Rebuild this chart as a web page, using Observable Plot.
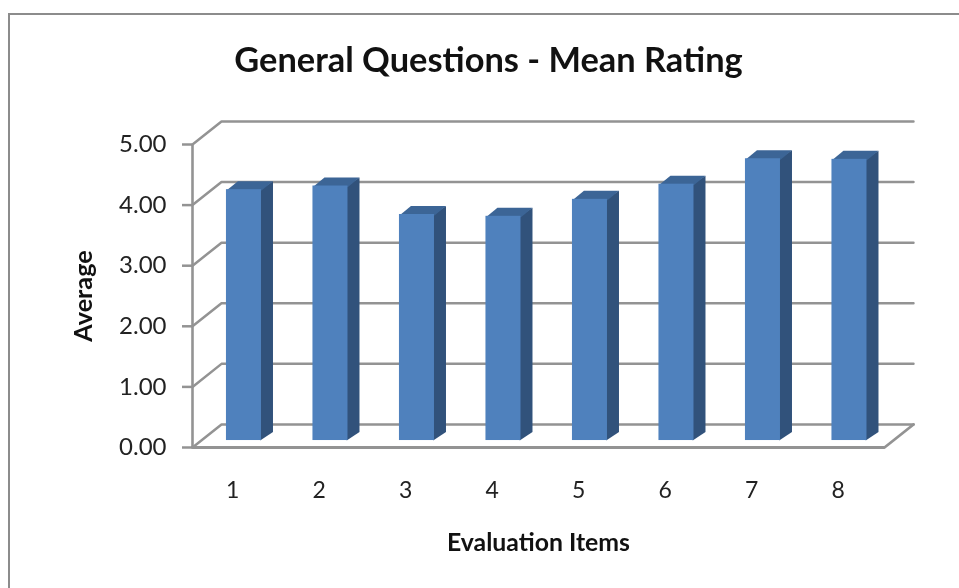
<!DOCTYPE html>
<html><head><meta charset="utf-8">
<script src="https://cdn.jsdelivr.net/npm/d3@7"></script>
<script src="https://cdn.jsdelivr.net/npm/@observablehq/plot@0.6"></script>
<style>
html,body{margin:0;padding:0;background:#fff}
#chart{position:relative;width:959px;height:588px;overflow:hidden}
#chart svg{display:block;filter:blur(0.55px)}
#border{position:absolute;left:8px;top:13px;right:-10px;bottom:-10px;border:2.5px solid #8c8c8c;filter:blur(0.3px)}
</style></head><body><div id="chart"><div id="border"></div></div>
<script>
const items = [1, 2, 3, 4, 5, 6, 7, 8];
const means = [4.14, 4.20, 3.73, 3.70, 3.98, 4.23, 4.65, 4.64];
const gridValues = [0, 1, 2, 3, 4, 5];
const titleText = "General Questions - Mean Rating";
const yTitle = "Average";
const xTitle = "Evaluation Items";

// 3D projection in data units
const wallDx = 0.335, wallDy = 0.38;
const barShift = 0.095, barBase = 0.115, barHalf = 0.2025, depthDx = 0.133, depthDy = 0.14;
const seam = 0.015;
const [xMin, xMax] = [0.5, 8.5];

const grid = gridValues.flatMap(v => [
  {g: v, x: xMin, y: v},
  {g: v, x: xMin + wallDx, y: v + wallDy},
  {g: v, x: xMax + wallDx, y: v + wallDy}
]);
const floorEdge = [
  {x: xMin, y: 0}, {x: xMax, y: 0}, {x: xMax + wallDx, y: wallDy}
];
const bars = items.map((k, i) => ({
  k, l: k + barShift - barHalf, r: k + barShift + barHalf,
  b: barBase, t: barBase + means[i]
}));
const sideFaces = bars.flatMap(d => [
  {k: d.k, x: d.r - seam, y: d.b},
  {k: d.k, x: d.r + depthDx, y: d.b + depthDy},
  {k: d.k, x: d.r + depthDx, y: d.t + depthDy},
  {k: d.k, x: d.r - seam, y: d.t}
]);
const topFaces = bars.flatMap(d => [
  {k: d.k, x: d.l, y: d.t - seam},
  {k: d.k, x: d.l + depthDx, y: d.t + depthDy},
  {k: d.k, x: d.r + depthDx, y: d.t + depthDy},
  {k: d.k, x: d.r, y: d.t - seam}
]);

const gray = "#939393";
const font = "Lato, Carlito, sans-serif";
const plot = Plot.plot({
  width: 959, height: 588,
  marginLeft: 192, marginRight: 75, marginTop: 144, marginBottom: 141,
  style: {background: "transparent", fontFamily: font, color: "#1a1a1a"},
  x: {domain: [xMin, xMax]},
  y: {domain: [0, 5]},
  marks: [
    Plot.line(grid, {x: "x", y: "y", z: "g", stroke: gray, strokeWidth: 2.5, strokeLinejoin: "miter"}),
    Plot.line(floorEdge, {x: "x", y: "y", stroke: gray, strokeWidth: 2.8}),
    Plot.ruleX([xMin], {y1: 0, y2: 5, stroke: gray, strokeWidth: 2.6}),
    Plot.axisY({
      ticks: gridValues, tickFormat: d3.format(".2f"), tickSize: 10, tickPadding: 16,
      stroke: gray, strokeWidth: 2.5, fontSize: 24, label: null, fill: "#222"
    }),
    Plot.axisX({
      ticks: items, tickFormat: d => d, tickSize: 0, tickPadding: 34, dx: -3,
      fontSize: 23, label: null, fill: "#222"
    }),
    Plot.line(sideFaces, {x: "x", y: "y", z: "k", fill: "#31527b", stroke: "none"}),
    Plot.line(topFaces, {x: "x", y: "y", z: "k", fill: "#3c6596", stroke: "none"}),
    Plot.rect(bars, {x1: "l", x2: "r", y1: "b", y2: "t", fill: "#4f81bd"}),
    Plot.text([titleText], {text: d => d, frameAnchor: "top", lineAnchor: "middle", dx: -50, dy: -84, fontSize: 34.4, fontWeight: 700, fill: "#111"}),
    Plot.text([xTitle], {text: d => d, frameAnchor: "bottom", lineAnchor: "middle", dx: 0, dy: 96, fontSize: 24.8, fontWeight: 700, fill: "#111"}),
    Plot.text([yTitle], {text: d => d, frameAnchor: "left", textAnchor: "middle", lineAnchor: "middle", dx: -109, dy: 0, rotate: -90, fontSize: 25.2, fontWeight: 700, fill: "#111"})
  ]
});
document.getElementById("chart").append(plot);
</script></body></html>
